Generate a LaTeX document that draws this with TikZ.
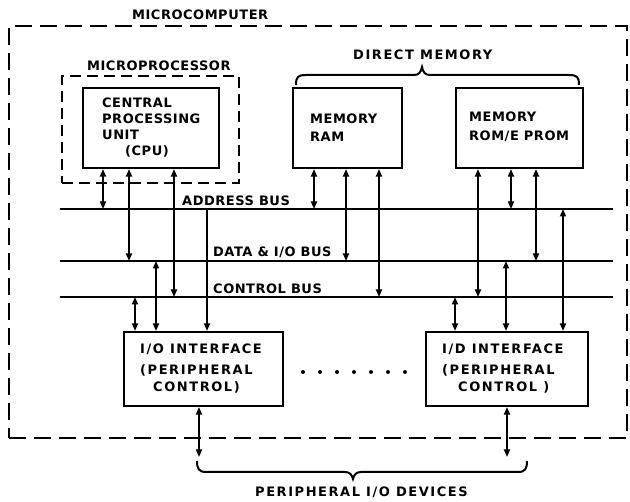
\documentclass[tikz,border=0pt]{standalone}
\usepackage{fontspec}
\setmainfont{DejaVu Sans}[LetterSpace=4]
\usetikzlibrary{arrows.meta}
\newcommand{\lblfont}{\bfseries\fontsize{13}{15}\selectfont}
\tikzset{
  box/.style={draw, line width=2.1pt, inner sep=0pt},
  txt/.style={anchor=base west, inner sep=0pt, font=\lblfont},
  wide/.style={txt, font=\lblfont\addfontfeatures{LetterSpace=12}},
  bus/.style={line width=2pt},
  con/.style={line width=1.7pt},
  tip/.tip={Triangle[length=7.5pt,width=6pt]},
  dbl/.style={con, tip-tip},
  sgl/.style={con, -tip},
}
\begin{document}
\begin{tikzpicture}[x=1pt,y=-1pt]
\useasboundingbox (0,0) rectangle (630,502);
% frames
\node[box, dash pattern=on 17pt off 8pt, minimum width=618pt, minimum height=412pt] (mc) at (318,232) {};
\node[box, dash pattern=on 11pt off 6pt, minimum width=177pt, minimum height=107pt] (mp) at (150.5,129.5) {};
\node[box, fill=white, minimum width=136pt, minimum height=80pt] (cpu) at (151,128) {};
\node[box, minimum width=109pt, minimum height=80pt] (ram) at (347.5,128) {};
\node[box, minimum width=127pt, minimum height=80pt] (rom) at (519.5,128) {};
\node[box, minimum width=159pt, minimum height=74pt] (io1) at (203.5,369) {};
\node[box, minimum width=162pt, minimum height=74pt] (io2) at (507,369) {};
% labels
\node[txt] (tmc) at (132,20) {MICROCOMPUTER};
\node[txt] (tmp) at (87,71) {MICROPROCESSOR};
\node[wide] (tdm) at (353,60) {DIRECT MEMORY};
\node[txt] (c1) at (102,108) {CENTRAL};
\node[txt] (c2) at (102,124) {PROCESSING};
\node[txt] (c3) at (102,140) {UNIT};
\node[txt] (c4) at (125,156) {(CPU)};
\node[txt] (r1) at (310,124) {MEMORY};
\node[txt] (r2) at (310,142) {RAM};
\node[txt] (p1) at (469,122) {MEMORY};
\node[txt] (p2) at (469,141) {ROM/E PROM};
\node[txt] (lab) at (182,206) {ADDRESS BUS};
\node[txt] (ldb) at (213,257) {DATA \& I/O BUS};
\node[txt] (lcb) at (213,294) {CONTROL BUS};
\node[wide] (i11) at (140,354) {I/O INTERFACE};
\node[wide] (i12) at (140,375) {(PERIPHERAL};
\node[wide] (i13) at (153,392) {CONTROL)};
\node[wide] (i21) at (442,354) {I/D INTERFACE};
\node[wide] (i22) at (442,375) {(PERIPHERAL};
\node[wide] (i23) at (458,392) {CONTROL )};
\node[wide] (tpd) at (255,497) {PERIPHERAL I/O DEVICES};
% buses
\coordinate (abL) at (60,209); \coordinate (abR) at (613,209);
\coordinate (dbL) at (60,261); \coordinate (dbR) at (613,261);
\coordinate (cbL) at (60,297); \coordinate (cbR) at (613,297);
\draw[bus] (abL) -- (abR);
\draw[bus] (dbL) -- (dbR);
\draw[bus] (cbL) -- (cbR);
% module to bus connectors
\foreach \x/\m/\b in {103/cpu/ab,129/cpu/db,174/cpu/cb,314/ram/ab,346/ram/db,379/ram/cb,478/rom/cb,511/rom/ab,536/rom/db}{
  \coordinate (t) at (\x,0);
  \draw[dbl] (\m.south -| t) -- (t |- \b L);
}
% bus to I/O connectors
\foreach \x/\m/\b in {135/io1/cb,156/io1/db,455/io2/cb,506/io2/db,563/io2/ab}{
  \coordinate (t) at (\x,0);
  \draw[dbl] (t |- \b L) -- (\m.north -| t);
}
\coordinate (t) at (207,0);
\draw[sgl] (t |- abL) -- (io1.north -| t);
% to peripherals
\coordinate (pe1) at (199,457);
\coordinate (pe2) at (507,457);
\draw[dbl] (io1.south -| pe1) -- (pe1);
\draw[dbl] (io2.south -| pe2) -- (pe2);
% dots
\foreach \i in {0,...,6}{\fill (303+17*\i,372) circle (2pt);}
% braces
\draw[line width=2pt] (296,85) .. controls (296,77) and (298,75) .. (306,75) -- (414,75)
  .. controls (419,75) and (421,72) .. (422,67) .. controls (423,72) and (425,75) .. (430,75)
  -- (569,75) .. controls (577,75) and (579,77) .. (579,85);
\draw[line width=2pt] (197,461) .. controls (197,469) and (199,472) .. (206,472) -- (345,472)
  .. controls (350,472) and (352,475) .. (353,479) .. controls (354,475) and (356,472) .. (361,472)
  -- (518,472) .. controls (525,472) and (527,469) .. (527,461);
\end{tikzpicture}
\end{document}
